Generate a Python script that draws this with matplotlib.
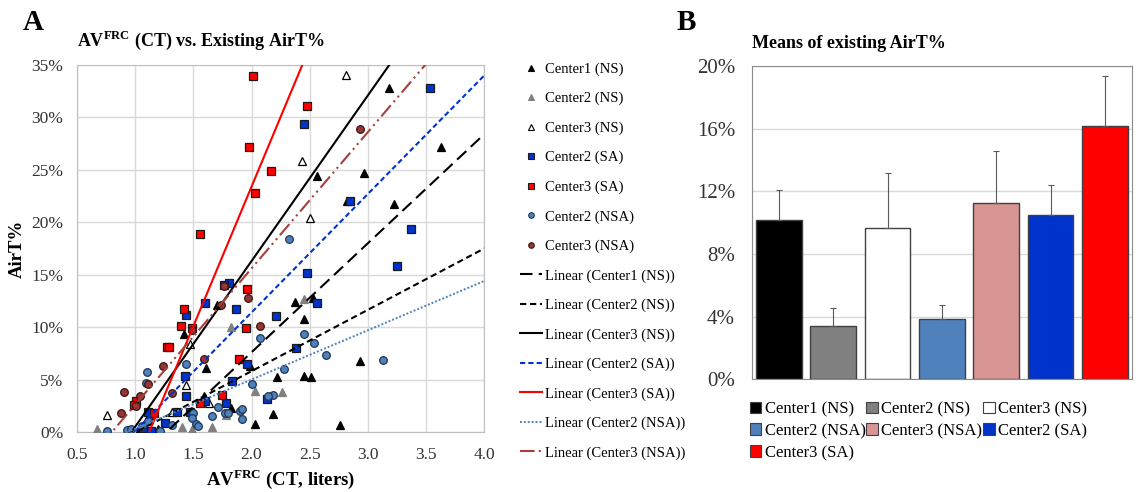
import matplotlib.pyplot as plt
from matplotlib.lines import Line2D
from matplotlib.patches import Patch
import numpy as np

plt.rcParams['font.family'] = ['Liberation Serif', 'DejaVu Serif']
plt.rcParams['mathtext.fontset'] = 'custom'
plt.rcParams['mathtext.rm'] = 'Liberation Serif'
plt.rcParams['mathtext.bf'] = 'Liberation Serif:bold'

# ---- panel A: AV_FRC (liters) vs AirT (%) ----
c1_ns_x = [3.18, 3.63, 2.56, 2.97, 3.22, 2.82, 2.37, 2.53, 2.45, 2.93, 2.22, 2.45, 2.51, 2.76,
           2.18, 1.61, 2.03, 1.70, 1.82, 1.42, 1.59, 1.99, 1.49, 1.20, 1.04]
c1_ns_y = [32.8, 27.2, 24.4, 24.7, 21.7, 22.0, 12.4, 12.8, 10.8, 6.8, 5.2, 5.3, 5.2, 0.7,
           1.7, 6.1, 0.8, 12.1, 2.3, 9.3, 3.4, 6.3, 0.2, 0.25, 0.4]

c2_ns_x = [2.45, 2.26, 2.03, 1.78, 1.66, 1.82, 1.49, 0.67, 1.40, 1.13]
c2_ns_y = [12.7, 3.8, 3.9, 1.6, 0.5, 10.0, 0.2, 0.25, 0.5, 1.5]

c3_ns_x = [2.81, 2.43, 2.50, 1.47, 1.44, 0.76, 1.12, 1.63, 1.32]
c3_ns_y = [34.0, 25.8, 20.4, 8.4, 4.5, 1.6, 1.6, 2.8, 1.9]

c2_sa_x = [3.53, 2.45, 2.85, 3.37, 3.25, 2.48, 2.56, 2.21, 2.38, 1.87, 1.60, 2.13, 1.96, 1.83,
           1.78, 1.60, 1.81, 1.76, 1.44, 1.43, 1.44, 1.36, 1.47, 1.11, 1.26, 1.07, 1.14]
c2_sa_y = [32.8, 29.4, 22.0, 19.4, 15.8, 15.2, 12.3, 11.1, 8.0, 11.7, 12.3, 3.1, 6.5, 4.9,
           2.8, 3.0, 14.2, 14.0, 11.2, 5.3, 3.4, 1.9, 1.9, 1.9, 0.9, 0.35, 0.1]

c3_sa_x = [2.01, 1.98, 2.17, 2.03, 1.56, 2.48, 1.42, 1.49, 1.39, 1.27, 1.29, 1.96, 1.95, 1.89,
           1.75, 1.56, 1.01, 0.99, 1.16]
c3_sa_y = [33.9, 27.2, 24.9, 22.8, 18.9, 31.1, 11.7, 9.9, 10.1, 8.1, 8.1, 13.6, 9.9, 7.0,
           3.5, 2.8, 3.0, 2.6, 1.8]

c2_nsa_x = [0.76, 0.93, 0.96, 1.11, 1.32, 1.44, 1.50, 1.49, 1.52, 1.54, 1.66, 1.71, 1.77, 1.90,
            1.92, 2.00, 2.07, 2.18, 1.21, 2.45, 2.54, 2.64, 3.13, 2.28, 2.14, 1.92, 1.80, 2.32,
            1.10, 1.09, 1.06]
c2_nsa_y = [0.1, 0.2, 0.25, 1.0, 0.7, 6.5, 1.8, 1.3, 0.8, 0.6, 1.5, 2.4, 1.8, 2.0,
            1.2, 4.6, 9.0, 3.5, 0.1, 9.3, 8.5, 7.3, 6.9, 6.0, 3.4, 2.2, 1.8, 18.4,
            5.7, 4.7, 0.6]

c3_nsa_x = [2.93, 1.76, 1.74, 1.97, 2.07, 1.59, 1.49, 1.24, 1.11, 0.90, 0.88, 1.04, 1.01, 1.32]
c3_nsa_y = [28.9, 13.9, 12.1, 12.8, 10.1, 7.0, 9.7, 6.3, 4.6, 3.8, 1.8, 3.4, 2.5, 3.7]

# linear trendlines: AirT% = slope * AV + intercept
fit_names = ['Center1 (NS)', 'Center2 (NS)', 'Center3 (NS)', 'Center2 (SA)',
             'Center3 (SA)', 'Center2 (NSA)', 'Center3 (NSA)']
fit_slope = [10.4, 5.85, 15.8, 11.3, 26.6, 4.7, 13.0]
fit_intercept = [-13.2, -5.9, -15.3, -11.2, -29.8, -4.4, -10.4]

# ---- panel B: means of existing AirT% ----
bar_labels = ['Center1 (NS)', 'Center2 (NS)', 'Center3 (NS)', 'Center2 (NSA)',
              'Center3 (NSA)', 'Center2 (SA)', 'Center3 (SA)']
bar_means = [10.15, 3.40, 9.65, 3.87, 11.24, 10.48, 16.19]
bar_err = [1.95, 1.13, 3.53, 0.87, 3.32, 1.95, 3.19]
bar_colors = ['#000000', '#808080', '#FFFFFF', '#4F81BD', '#D99594', '#0033CC', '#FF0000']

fig = plt.figure(figsize=(11.36, 4.92), dpi=100)

grid_c = '#D9D9D9'

# ================= A =================
ax = fig.add_axes([0.0678, 0.122, 0.3585, 0.746])
ax.set_xlim(0.5, 4.0)
ax.set_ylim(0, 35)
ax.set_xticks(np.arange(0.5, 4.01, 0.5))
ax.set_xticklabels([f"{v:.1f}" for v in np.arange(0.5, 4.01, 0.5)])
ax.set_yticks(np.arange(0, 36, 5))
ax.set_yticklabels([f"{v}%" for v in range(0, 36, 5)])
ax.grid(True, color=grid_c, lw=1)
ax.set_axisbelow(True)
for s in ax.spines.values():
    s.set_color('#BFBFBF')
ax.tick_params(length=0, labelsize=12.5, colors='#333333')
ax.tick_params(axis='x', pad=11)
ax.tick_params(axis='y', pad=10)

ms = 5.5
series = [
    (c1_ns_x, c1_ns_y, '^', '#000000', '#000000', 'Center1 (NS)'),
    (c2_ns_x, c2_ns_y, '^', '#808080', '#808080', 'Center2 (NS)'),
    (c3_ns_x, c3_ns_y, '^', '#FFFFFF', '#000000', 'Center3 (NS)'),
    (c2_sa_x, c2_sa_y, 's', '#0033CC', '#1A1A1A', 'Center2 (SA)'),
    (c3_sa_x, c3_sa_y, 's', '#FF0000', '#1A1A1A', 'Center3 (SA)'),
    (c2_nsa_x, c2_nsa_y, 'o', '#4F81BD', '#1F3552', 'Center2 (NSA)'),
    (c3_nsa_x, c3_nsa_y, 'o', '#943634', '#3A1414', 'Center3 (NSA)'),
]
handles = []
for xs, ys, mk, fc, ec, lab in series:
    ax.plot(xs, ys, ls='none', marker=mk, ms=ms, mfc=fc, mec=ec, mew=0.9, zorder=3)
    handles.append(Line2D([], [], ls='none', marker=mk, ms=4, mfc=fc, mec=ec, mew=0.8, label=lab))

line_styles = [
    ('#000000', (0, (6, 3)), 1.5),
    ('#000000', (0, (3, 1.8)), 1.5),
    ('#000000', '-', 1.5),
    ('#0033CC', (0, (2.5, 1.5)), 1.5),
    ('#FF0000', '-', 1.5),
    ('#4F81BD', (0, (1, 1)), 1.4),
    ('#A5403C', (0, (7, 2, 1, 2, 1, 2)), 1.5),
]
xx = np.array([0.5, 4.0])
for name, k, b, (col, lsty, lw) in zip(fit_names, fit_slope, fit_intercept, line_styles):
    ax.plot(xx, k * xx + b, color=col, ls=lsty, lw=lw, zorder=4)
    handles.append(Line2D([], [], color=col, ls=lsty, lw=lw, label=f"Linear ({name})"))

fig.legend(handles=handles, loc='upper left', bbox_to_anchor=(0.453, 0.885),
           frameon=False, fontsize=10.5, labelspacing=1.1, handlelength=1.45,
           handletextpad=0.25, borderaxespad=0)

ax.set_title(r"AV$^{\mathbf{FRC}}$ (CT) vs. Existing AirT%", fontsize=13, fontweight='bold',
             loc='left', x=0.0, pad=14)
ax.set_xlabel(r"AV$^{\mathbf{FRC}}$ (CT, liters)", fontsize=13.5, fontweight='bold', labelpad=3)
ax.set_ylabel("AirT%", fontsize=13.5, fontweight='bold', labelpad=4)
fig.text(0.02, 0.955, "A", fontsize=21, fontweight='bold', va='center')

# ================= B =================
bx = fig.add_axes([0.6617, 0.229, 0.3348, 0.637])
pos = np.arange(len(bar_means))
bx.bar(pos, bar_means, width=0.84, color=bar_colors, edgecolor='#404040', lw=1, zorder=2)
bx.errorbar(pos, bar_means, yerr=[[0] * len(bar_err), bar_err], fmt='none',
            ecolor='#595959', elinewidth=0.8, capsize=2.5, capthick=0.8, zorder=3)
bx.set_xlim(-0.5, len(bar_means) - 0.5)
bx.set_ylim(0, 20)
bx.set_yticks(range(0, 21, 4))
bx.set_yticklabels([f"{v}%" for v in range(0, 21, 4)])
bx.set_xticks([])
bx.yaxis.grid(True, color=grid_c, lw=1)
bx.set_axisbelow(True)
for s in bx.spines.values():
    s.set_color('#8C8C8C')
bx.tick_params(length=0, labelsize=15, pad=12, colors='#333333')
bx.set_title("Means of existing AirT%", fontsize=13, fontweight='bold', loc='left', x=0.0, pad=13)
fig.text(0.596, 0.955, "B", fontsize=21, fontweight='bold', va='center')

patches = [Patch(facecolor=c, edgecolor='#404040', lw=0.8, label=l)
           for c, l in zip(bar_colors, bar_labels)]
order = [0, 3, 6, 1, 4, 2, 5]
fig.legend(handles=[patches[i] for i in order], loc='upper left', ncol=3,
           bbox_to_anchor=(0.654, 0.198), frameon=False, fontsize=12,
           handlelength=0.7, handleheight=0.7, handletextpad=0.2,
           columnspacing=0.05, labelspacing=0.35, borderaxespad=0)

fig.savefig("out.png", dpi=100)
